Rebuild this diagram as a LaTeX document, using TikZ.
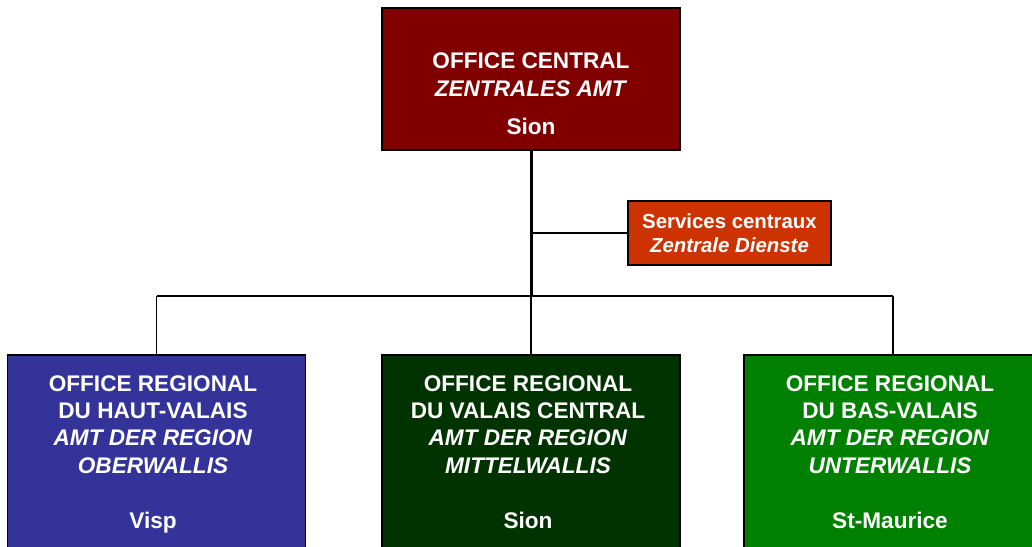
\documentclass[tikz,border=0pt]{standalone}
\usepackage{fontspec}
\setmainfont{Liberation Sans}
\definecolor{ccentral}{HTML}{800000}
\definecolor{cservices}{HTML}{CC3300}
\definecolor{cblue}{HTML}{333399}
\definecolor{cdgreen}{HTML}{003300}
\definecolor{cgreen}{HTML}{008000}
\begin{document}
\begin{tikzpicture}[x=1pt,y=-1pt,
  box/.style={draw=black, line width=1.2pt, rectangle, inner sep=0pt, minimum width=298pt},
  bigtxt/.style={text=white, align=center, inner sep=0pt, anchor=base,
    font=\bfseries\fontsize{22.6pt}{27.4pt}\selectfont},
  smalltxt/.style={text=white, align=center, inner sep=0pt, anchor=base,
    font=\bfseries\fontsize{20.4pt}{24pt}\selectfont},
  thin/.style={line width=1.3pt, draw=black},
  thick/.style={line width=3pt, draw=black}]
\useasboundingbox (0,0) rectangle (1032,546);
\clip (0,0) rectangle (1032,546);
% boxes
\node[box, fill=ccentral, minimum height=142pt] (central) at (531,79) {};
\node[box, fill=cservices, minimum width=203pt, minimum height=64pt] (services) at (729.5,233) {};
\node[box, fill=cblue, minimum height=220pt] (haut) at (156.5,465) {};
\node[box, fill=cdgreen, minimum height=220pt] (mittel) at (531,465) {};
\node[box, fill=cgreen, minimum height=220pt] (bas) at (893,465) {};
% connectors
\coordinate (jmain) at (531,296);
\coordinate (jserv) at (531,233);
\coordinate (jleft) at (156.5,296);
\coordinate (jright) at (893,296);
\draw[thick] (central.south) -- (jmain);
\draw[thin] (jserv) -- (services.west);
\draw[thin] (jleft) -- (jright);
\draw[thin] (jleft) -- (haut.north);
\draw[thin] (jmain) -- (mittel.north);
\draw[thin] (jright) -- (bas.north);
% texts (anchor = baseline of last line)
\node[bigtxt] (centralt) at (531,134) {OFFICE CENTRAL\\\textit{ZENTRALES AMT}\\[10.5pt]Sion};
\node[smalltxt] (servicest) at (729.5,252.5) {Services centraux\\\textit{Zentrale Dienste}};
\node[bigtxt] (hautt) at (153,528) {OFFICE REGIONAL\\DU HAUT-VALAIS\\\textit{AMT DER REGION}\\\textit{OBERWALLIS}\\[27.4pt]Visp};
\node[bigtxt] (mittelt) at (528,528) {OFFICE REGIONAL\\DU VALAIS CENTRAL\\\textit{AMT DER REGION}\\\textit{MITTELWALLIS}\\[27.4pt]Sion};
\node[bigtxt] (bast) at (890,528) {OFFICE REGIONAL\\DU BAS-VALAIS\\\textit{AMT DER REGION}\\\textit{UNTERWALLIS}\\[27.4pt]St-Maurice};
\end{tikzpicture}
\end{document}
